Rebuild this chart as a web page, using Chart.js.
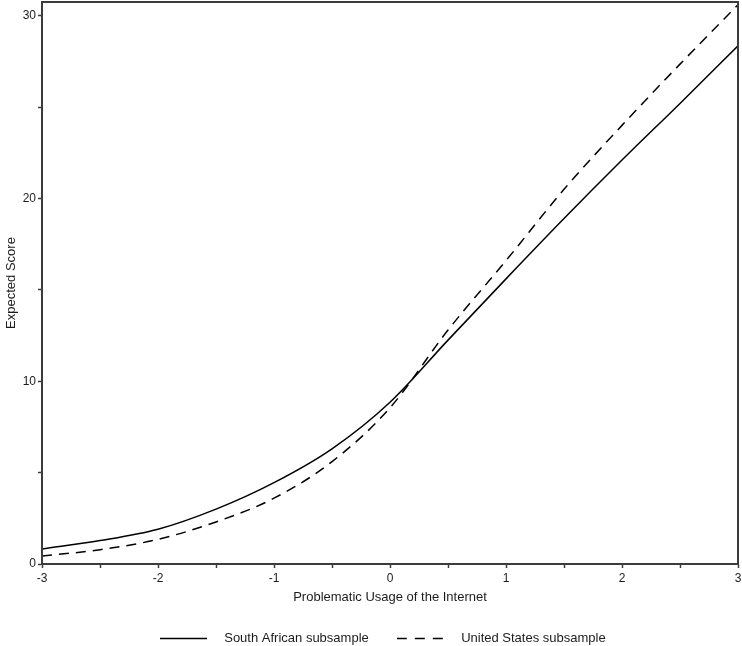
<!DOCTYPE html>
<html>
<head>
<meta charset="utf-8">
<script src="https://cdn.jsdelivr.net/npm/chart.js@4/dist/chart.umd.min.js"></script>
<style>
  html, body { margin: 0; padding: 0; background: #fff; }
  #wrap { width: 742px; height: 646px; }
</style>
</head>
<body>
<div id="wrap"><canvas id="irt"></canvas></div>
<script>
// values
var thetaVals = [-3, -2.5, -2, -1.5, -1, -0.5, 0, 0.5, 1, 1.5, 2, 2.5, 3];
var southAfrica = [0.82, 1.28, 1.90, 3.0, 4.45, 6.3, 8.85, 12.25, 15.6, 18.9, 22.1, 25.2, 28.35];
var unitedStates = [0.44, 0.78, 1.35, 2.3, 3.6, 5.6, 8.55, 12.8, 16.6, 20.5, 24.0, 27.35, 30.6];
var seriesNames = ["South African subsample", "United States subsample"];
var xTickLabels = [-3, -2, -1, 0, 1, 2, 3];
var yTickLabels = [0, 10, 20, 30];

var axisCol = "#3c3c3c";
var textCol = "#1c1c1c";
var fontFam = "'Liberation Sans', Arial, sans-serif";

function toPoints(ys) {
    return thetaVals.map(function (t, i) { return { x: t, y: ys[i] }; });
}

// little line sample for the legend (keeps the dash pattern)
function lineSample(dash) {
    var c = document.createElement('canvas');
    c.width = 47; c.height = 3;
    var g = c.getContext('2d');
    g.strokeStyle = '#000';
    g.lineWidth = 1.5;
    g.setLineDash(dash);
    g.beginPath(); g.moveTo(0, 1.5); g.lineTo(47, 1.5); g.stroke();
    return c;
}

// box around the plot area (top and right edges)
var frame = {
    id: 'frame',
    afterDraw: function (chart) {
        var a = chart.chartArea, c = chart.ctx;
        c.save();
        c.strokeStyle = axisCol;
        c.lineWidth = 2;
        c.strokeRect(a.left, a.top, a.right - a.left, a.bottom - a.top);
        c.restore();
    }
};

var ctx = document.getElementById('irt');
new Chart(ctx, {
    type: 'line',
    data: {
        datasets: [{
            label: seriesNames[0],
            data: toPoints(southAfrica),
            borderColor: '#000',
            borderWidth: 1.5,
            pointRadius: 0,
            cubicInterpolationMode: 'monotone'
        }, {
            label: seriesNames[1],
            data: toPoints(unitedStates),
            borderColor: '#000',
            borderWidth: 1.5,
            borderDash: [10, 7],
            pointRadius: 0,
            cubicInterpolationMode: 'monotone'
        }]
    },
    options: {
        responsive: true,
        maintainAspectRatio: false,
        animation: false,
        layout: { padding: { top: 2, right: 0, left: 0, bottom: -9 } },
        plugins: {
            tooltip: { enabled: false },
            legend: {
                position: 'bottom',
                fullSize: false,
                labels: {
                    usePointStyle: true,
                    pointStyleWidth: 47,
                    padding: 10,
                    color: textCol,
                    font: { family: fontFam, size: 13 },
                    generateLabels: function (chart) {
                        var items = Chart.defaults.plugins.legend.labels.generateLabels(chart);
                        items[0].text = '   ' + items[0].text + '     ';
                        items[1].text = '   ' + items[1].text + '    ';
                        items[0].pointStyle = lineSample([]);
                        items[1].pointStyle = lineSample([10, 8]);
                        return items;
                    }
                }
            }
        },
        scales: {
            x: {
                type: 'linear',
                min: -3,
                max: 3,
                afterFit: function (s) { s.height = 58; s.paddingRight = 4; s.paddingLeft = 0; },
                border: { color: axisCol, width: 2 },
                grid: { drawOnChartArea: false, tickLength: 4, color: axisCol, tickWidth: 1.5 },
                ticks: {
                    stepSize: 0.5,
                    padding: 3,
                    maxRotation: 0,
                    color: textCol,
                    font: { family: fontFam, size: 12 },
                    callback: function (v) { return xTickLabels.indexOf(v) >= 0 ? String(v) : ''; }
                },
                title: {
                    display: true,
                    text: 'Problematic Usage of the Internet',
                    color: textCol,
                    font: { family: fontFam, size: 13 },
                    padding: { top: 4, bottom: 17 }
                }
            },
            y: {
                type: 'linear',
                min: 0,
                max: 30.75,
                afterFit: function (s) { s.width = 42; s.paddingTop = 0; s.paddingBottom = 0; },
                border: { color: axisCol, width: 2 },
                grid: { drawOnChartArea: false, tickLength: 4, color: axisCol, tickWidth: 1.5 },
                afterBuildTicks: function (s) {
                    s.ticks = [0, 5, 10, 15, 20, 25, 30].map(function (v) { return { value: v }; });
                },
                ticks: {
                    padding: 2,
                    color: textCol,
                    font: { family: fontFam, size: 12 },
                    callback: function (v) { return yTickLabels.indexOf(v) >= 0 ? String(v) : ''; }
                },
                title: {
                    display: true,
                    text: 'Expected Score',
                    color: textCol,
                    font: { family: fontFam, size: 13 },
                    padding: { top: 4, bottom: 0 }
                }
            }
        }
    },
    plugins: [frame]
});
</script>
</body>
</html>
